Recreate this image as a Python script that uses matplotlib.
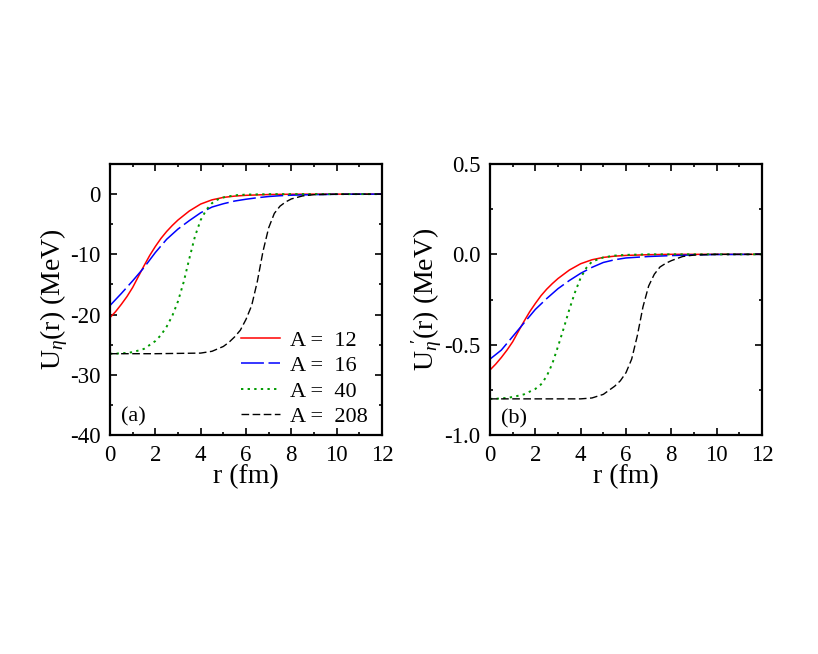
import matplotlib
matplotlib.use("Agg")
import matplotlib.pyplot as plt
from matplotlib.ticker import MultipleLocator, FixedLocator

plt.rcParams['font.family'] = ['Liberation Serif', 'DejaVu Serif']
plt.rcParams['mathtext.fontset'] = 'custom'
plt.rcParams['mathtext.rm'] = 'Liberation Serif'
plt.rcParams['mathtext.it'] = 'Liberation Serif:italic'
plt.rcParams['axes.unicode_minus'] = False

labels = ["A =  12", "A =  16", "A =  40", "A =  208"]

# ---- panel (a): U_eta(r) in MeV ----
r_a12 = [0, 0.25, 0.5, 0.75, 1.0, 1.25, 1.5, 1.75, 2.0, 2.25, 2.5, 2.75, 3.0, 3.5, 4.0, 4.5, 5.0, 5.5, 6.0, 7.0, 8.0, 9.0, 12.0]
u_a12 = [-20.5, -19.5, -18.3, -17.0, -15.5, -13.7, -11.9, -10.2, -8.7, -7.35, -6.2, -5.2, -4.3, -2.8, -1.65, -0.95, -0.55, -0.33, -0.2, -0.07, -0.02, -0.005, 0.0]

r_a16 = [0, 0.5, 1.0, 1.5, 2.0, 2.5, 3.0, 3.5, 4.0, 4.5, 5.0, 5.5, 6.0, 6.5, 7.0, 7.5, 8.0, 9.0, 10.0, 11.0, 12.0]
u_a16 = [-18.5, -16.5, -14.4, -12.2, -9.7, -7.5, -5.8, -4.4, -3.1, -2.15, -1.6, -1.15, -0.85, -0.6, -0.4, -0.27, -0.18, -0.08, -0.03, -0.01, 0.0]

r_a40 = [0, 0.5, 1.0, 1.5, 2.0, 2.25, 2.5, 2.75, 3.0, 3.25, 3.5, 3.75, 4.0, 4.25, 4.5, 4.75, 5.0, 5.5, 6.0, 7.0, 8.0, 12.0]
u_a40 = [-26.5, -26.45, -26.25, -25.7, -24.4, -23.4, -22.0, -20.2, -17.8, -14.6, -10.7, -7.0, -4.3, -2.6, -1.5, -0.9, -0.55, -0.2, -0.08, -0.01, 0.0, 0.0]

r_a208 = [0, 2.0, 4.0, 4.5, 5.0, 5.25, 5.5, 5.75, 6.0, 6.25, 6.5, 6.75, 7.0, 7.25, 7.5, 7.75, 8.0, 8.5, 9.0, 10.0, 12.0]
u_a208 = [-26.5, -26.5, -26.4, -26.1, -25.3, -24.6, -23.7, -22.6, -20.8, -18.5, -14.5, -9.5, -5.6, -3.2, -2.0, -1.3, -0.8, -0.3, -0.1, -0.02, 0.0]

# ---- panel (b): U'_eta(r) in MeV ----
r_b12 = [0, 0.25, 0.5, 0.75, 1.0, 1.25, 1.5, 1.75, 2.0, 2.25, 2.5, 2.75, 3.0, 3.5, 4.0, 4.5, 5.0, 5.5, 6.0, 7.0, 8.0, 12.0]
u_b12 = [-0.64, -0.608, -0.571, -0.53, -0.484, -0.427, -0.371, -0.318, -0.272, -0.229, -0.193, -0.162, -0.134, -0.087, -0.052, -0.03, -0.017, -0.01, -0.006, -0.002, 0.0, 0.0]

r_b16 = [0, 0.5, 1.0, 1.5, 2.0, 2.5, 3.0, 3.5, 4.0, 4.5, 5.0, 5.5, 6.0, 7.0, 8.0, 9.0, 10.0, 12.0]
u_b16 = [-0.58, -0.53, -0.455, -0.38, -0.305, -0.245, -0.19, -0.145, -0.105, -0.072, -0.045, -0.03, -0.02, -0.012, -0.007, -0.003, -0.001, 0.0]

r_b40 = [0, 0.5, 1.0, 1.5, 2.0, 2.25, 2.5, 2.75, 3.0, 3.25, 3.5, 3.75, 4.0, 4.25, 4.5, 5.0, 5.5, 6.0, 7.0, 12.0]
u_b40 = [-0.80, -0.798, -0.79, -0.775, -0.745, -0.72, -0.675, -0.605, -0.51, -0.41, -0.305, -0.21, -0.13, -0.075, -0.04, -0.017, -0.007, -0.003, 0.0, 0.0]

r_b208 = [0, 2.0, 4.0, 4.5, 5.0, 5.5, 5.75, 6.0, 6.25, 6.5, 6.75, 7.0, 7.25, 7.5, 7.75, 8.0, 8.5, 9.0, 10.0, 12.0]
u_b208 = [-0.80, -0.80, -0.80, -0.795, -0.775, -0.73, -0.70, -0.655, -0.58, -0.45, -0.29, -0.175, -0.11, -0.07, -0.05, -0.035, -0.012, -0.004, 0.0, 0.0]

colors = ['#ff0000', '#0000ff', '#009a00', '#000000']
styles = [dict(linestyle='-'),
          dict(linestyle=(0, (15, 3))),
          dict(linestyle=(0, (1.2, 2.2))),
          dict(linestyle=(0, (5.5, 2.5)))]
lws = [1.1, 1.1, 1.4, 1.0]

W, H = 818, 654
fig = plt.figure(figsize=(W / 100, H / 100), dpi=100)
axa = fig.add_axes([110 / W, 1 - 435 / H, 272 / W, 271 / H])
axb = fig.add_axes([490 / W, 1 - 435 / H, 272 / W, 271 / H])

for i, (r, u) in enumerate(zip([r_a12, r_a16, r_a40, r_a208], [u_a12, u_a16, u_a40, u_a208])):
    axa.plot(r, u, color=colors[i], lw=lws[i], label=labels[i], **styles[i])
for i, (r, u) in enumerate(zip([r_b12, r_b16, r_b40, r_b208], [u_b12, u_b16, u_b40, u_b208])):
    axb.plot(r, u, color=colors[i], lw=lws[i], **styles[i])

axa.set_xlim(0, 12)
axa.set_ylim(-40, 5)
axa.yaxis.set_major_locator(FixedLocator([-40, -30, -20, -10, 0]))
axa.yaxis.set_minor_locator(MultipleLocator(5))
axb.set_xlim(0, 12)
axb.set_ylim(-1.0, 0.5)
axb.yaxis.set_minor_locator(MultipleLocator(0.25))
axb.set_yticks([-1.0, -0.5, 0.0, 0.5])
axb.set_yticklabels(["-1.0", "-0.5", "0.0", "0.5"])

for ax in (axa, axb):
    ax.xaxis.set_major_locator(MultipleLocator(2))
    ax.xaxis.set_minor_locator(MultipleLocator(1))
    ax.tick_params(which='both', direction='in', top=True, right=True, labelsize=16.5, width=1.2)
    ax.tick_params(which='major', length=5, pad=7)
    ax.tick_params(which='minor', length=2.5)
    for s in ax.spines.values():
        s.set_linewidth(1.6)
    ax.set_xlabel("r (fm)", fontsize=20, labelpad=-1)

axa.set_ylabel(r"U$_\eta$(r) (MeV)", fontsize=20, labelpad=0)
axb.set_ylabel(r"U$_\eta\!'$(r) (MeV)", fontsize=20, labelpad=0)

axa.text(0.085, 0.068, "(a)", transform=axa.transAxes, fontsize=16, ha='center', va='center')
axb.text(0.088, 0.06, "(b)", transform=axb.transAxes, fontsize=16, ha='center', va='center')

axa.legend(loc='upper left', bbox_to_anchor=(0.48, 0.387), frameon=False, fontsize=16,
           handlelength=1.76, handletextpad=0.45, labelspacing=0.22, borderaxespad=0.0,
           borderpad=0.0)

fig.savefig("out.png", dpi=100)
